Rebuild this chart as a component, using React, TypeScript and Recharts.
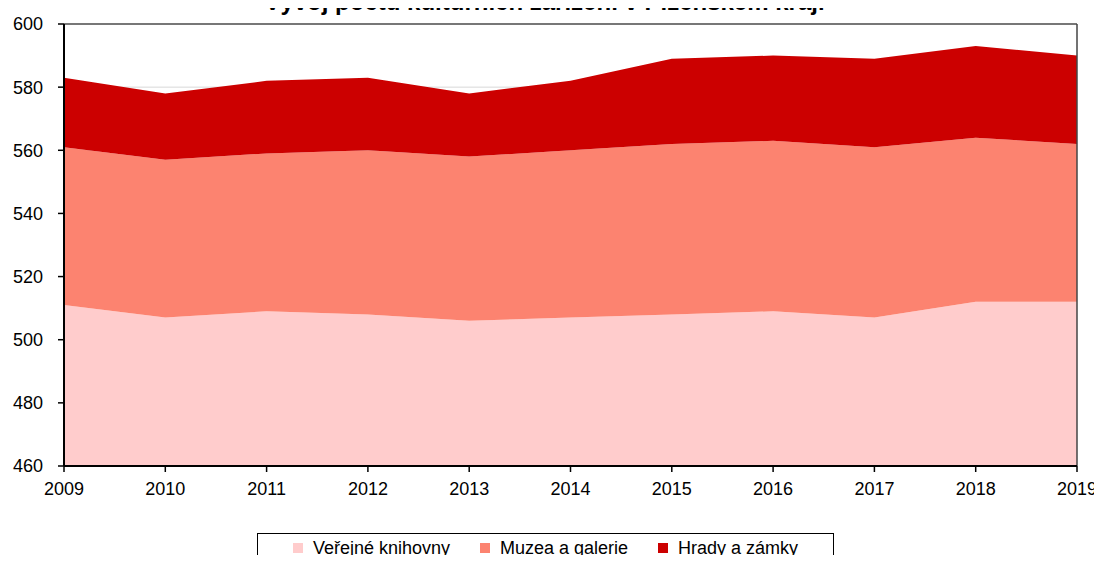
import React from 'react';
import { AreaChart, Area, XAxis, YAxis, CartesianGrid, ReferenceLine } from 'recharts';

const years = ['2009', '2010', '2011', '2012', '2013', '2014', '2015', '2016', '2017', '2018', '2019'];
const knihovny = [511, 507, 509, 508, 506, 507, 508, 509, 507, 512, 512];
const muzea = [50, 50, 50, 52, 52, 53, 54, 54, 54, 52, 50];
const hrady = [22, 21, 23, 23, 20, 22, 27, 27, 28, 29, 28];
const yTicks = [460, 480, 500, 520, 540, 560, 580, 600];

const SERIES = [
  { key: 'knihovny', name: 'Veřejné knihovny', color: '#FFCCCC' },
  { key: 'muzea', name: 'Muzea a galerie', color: '#FC8370' },
  { key: 'hrady', name: 'Hrady a zámky', color: '#CC0000' },
];

const data = years.map((year, i) => ({
  year,
  knihovny: knihovny[i],
  muzea: muzea[i],
  hrady: hrady[i],
}));

const FONT = '"Liberation Sans", Arial, sans-serif';

const App: React.FC = () => {
  return (
    <div style={{ position: 'relative', width: 1102, height: 563, margin: -8, overflow: 'hidden', background: '#fff', fontFamily: FONT }}>
      <svg width={1102} height={30} style={{ position: 'absolute', left: 0, top: 0 }}>
        <text x={544.5} y={9.5} textAnchor="middle" fontFamily={FONT} fontWeight="bold" fontSize={24} fill="#000">
          Vývoj počtu kulturních zařízení v Plzeňském kraji
        </text>
      </svg>
      <div style={{ position: 'absolute', left: 0, top: 0 }}>
        <AreaChart width={1102} height={563} data={data} margin={{ top: 24, right: 25, left: 0, bottom: 67 }}>
          <CartesianGrid vertical={false} stroke="#d9d9d9" />
          <XAxis
            dataKey="year"
            height={30}
            tickSize={6}
            tickMargin={10}
            axisLine={{ stroke: '#000', strokeWidth: 2 }}
            tickLine={{ stroke: '#000', strokeWidth: 1.5 }}
            tick={{ fill: '#000', fontSize: 18, fontFamily: FONT }}
            interval={0}
          />
          <YAxis
            width={64}
            domain={[460, 600]}
            ticks={yTicks}
            allowDataOverflow
            tickSize={6}
            tickMargin={15}
            axisLine={{ stroke: '#000', strokeWidth: 2 }}
            tickLine={{ stroke: '#000', strokeWidth: 1.5 }}
            tick={{ fill: '#000', fontSize: 18, fontFamily: FONT }}
          />
          {SERIES.map((s) => (
            <Area
              key={s.key}
              type="linear"
              dataKey={s.key}
              name={s.name}
              stackId="a"
              stroke="none"
              fill={s.color}
              fillOpacity={1}
              isAnimationActive={false}
            />
          ))}
          <ReferenceLine y={600} stroke="#777" strokeWidth={2} />
          <ReferenceLine x="2019" stroke="#444" strokeWidth={1.5} />
        </AreaChart>
      </div>
      <div
        style={{
          position: 'absolute',
          left: 257,
          top: 533,
          width: 577,
          height: 40,
          border: '1.5px solid #000',
          boxSizing: 'border-box',
          display: 'flex',
          justifyContent: 'center',
          alignItems: 'flex-start',
          paddingTop: 0,
          gap: 30,
          fontSize: 18,
          lineHeight: '24px',
          color: '#000',
        }}
      >
        {SERIES.map((s) => (
          <div key={s.key} style={{ display: 'flex', alignItems: 'center', gap: 10, height: 24, marginTop: 2 }}>
            <span style={{ width: 10, height: 10, background: s.color, display: 'inline-block' }} />
            <span>{s.name}</span>
          </div>
        ))}
      </div>
    </div>
  );
};

export default App;
